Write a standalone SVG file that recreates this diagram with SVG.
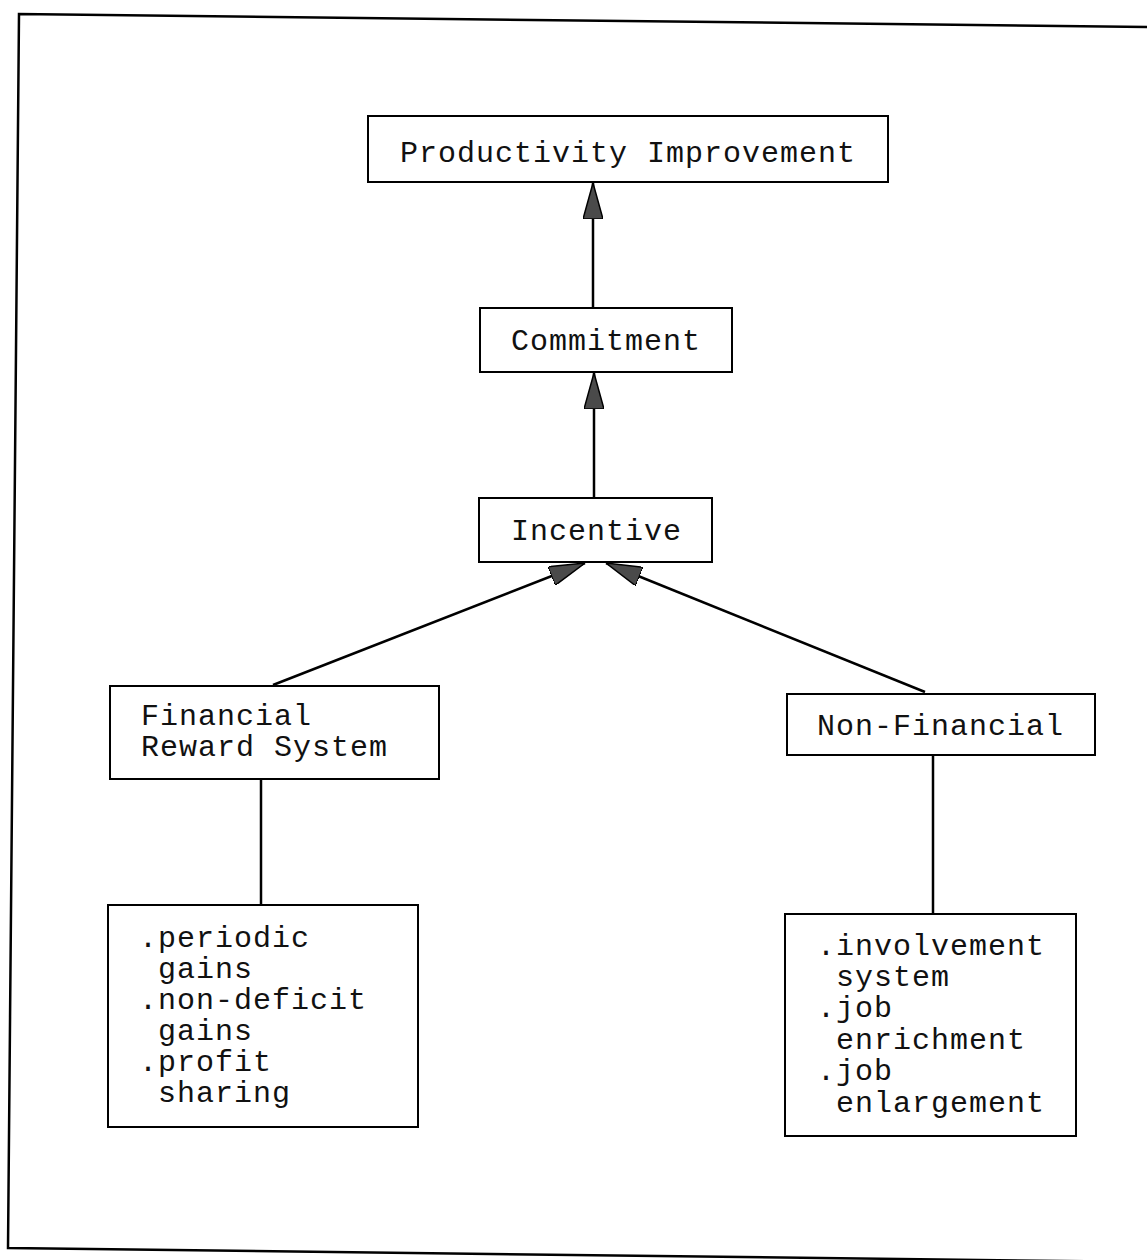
<svg xmlns="http://www.w3.org/2000/svg" width="1147" height="1260" viewBox="0 0 1147 1260">
<defs>
<style>
.box{fill:#fff;stroke:#000;stroke-width:2}
.lbl{font-family:"Liberation Mono","DejaVu Sans Mono",monospace;font-size:30px;letter-spacing:1px;fill:#111}
.con{fill:none;stroke:#000;stroke-width:2.5}
.frame{fill:none;stroke:#000;stroke-width:2.5}
</style>
<marker id="ah" viewBox="0 0 36 20" refX="36" refY="10" markerWidth="36" markerHeight="20" markerUnits="userSpaceOnUse" orient="auto">
<path d="M0,0 L36,10 L0,20 Z" fill="#4a4a4a" stroke="#000" stroke-width="1.5"/>
</marker>
</defs>
<rect width="1147" height="1260" fill="#fff"/>
<path class="frame" d="M1147,27 L19,14 L8,1248 L1147,1262"/>
<g id="connectors">
<line class="con" x1="593" y1="308" x2="593" y2="183" marker-end="url(#ah)"/>
<line class="con" x1="594" y1="498" x2="594" y2="373" marker-end="url(#ah)"/>
<line class="con" x1="273" y1="685" x2="585" y2="563" marker-end="url(#ah)"/>
<line class="con" x1="925" y1="692" x2="606" y2="563" marker-end="url(#ah)"/>
<line class="con" x1="261" y1="779" x2="261" y2="905"/>
<line class="con" x1="933" y1="755" x2="933" y2="914"/>
</g>
<g id="productivity">
<rect class="box" x="368" y="116" width="520" height="66"/>
<text class="lbl" x="400" y="162">Productivity Improvement</text>
</g>
<g id="commitment">
<rect class="box" x="480" y="308" width="252" height="64"/>
<text class="lbl" x="511" y="350">Commitment</text>
</g>
<g id="incentive">
<rect class="box" x="479" y="498" width="233" height="64"/>
<text class="lbl" x="511" y="540">Incentive</text>
</g>
<g id="financial">
<rect class="box" x="110" y="686" width="329" height="93"/>
<text class="lbl" x="141" y="725">Financial</text>
<text class="lbl" x="141" y="756">Reward System</text>
</g>
<g id="nonfinancial">
<rect class="box" x="787" y="694" width="308" height="61"/>
<text class="lbl" x="817" y="735">Non-Financial</text>
</g>
<g id="financial-list">
<rect class="box" x="108" y="905" width="310" height="222"/>
<text class="lbl" x="139" y="947">.periodic</text>
<text class="lbl" x="158" y="978">gains</text>
<text class="lbl" x="139" y="1009">.non-deficit</text>
<text class="lbl" x="158" y="1040">gains</text>
<text class="lbl" x="139" y="1071">.profit</text>
<text class="lbl" x="158" y="1102">sharing</text>
</g>
<g id="nonfinancial-list">
<rect class="box" x="785" y="914" width="291" height="222"/>
<text class="lbl" x="817" y="955">.involvement</text>
<text class="lbl" x="836" y="986">system</text>
<text class="lbl" x="817" y="1017">.job</text>
<text class="lbl" x="836" y="1049">enrichment</text>
<text class="lbl" x="817" y="1080">.job</text>
<text class="lbl" x="836" y="1112">enlargement</text>
</g>
</svg>
